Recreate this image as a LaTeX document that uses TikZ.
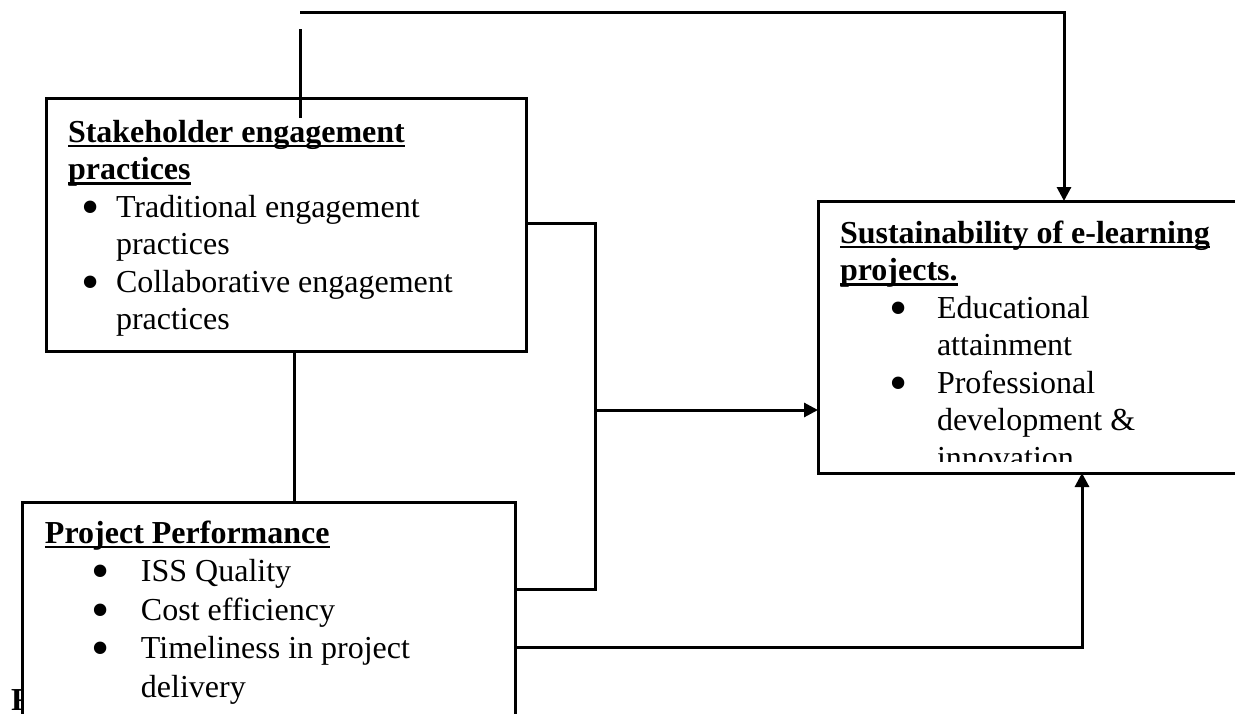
\documentclass[tikz,border=0pt]{standalone}
\usepackage{fontspec}
\setmainfont{Liberation Serif}
\usetikzlibrary{arrows.meta}

\newsavebox\hdbox
\newcommand{\hd}[1]{\sbox\hdbox{\bfseries #1}\rlap{\rule[-5.3pt]{\wd\hdbox}{2.6pt}}\usebox\hdbox}
\newcommand{\bdot}{\smash{\raisebox{-7pt}{\fontsize{52}{52}\selectfont\textbullet}}}
\newcommand{\bitem}[3]{\hspace*{#1}\makebox[#2][l]{\bdot}#3}

\begin{document}
\begin{tikzpicture}[x=1pt,y=-1pt]
        \tikzstyle{every node}=[inner sep=0pt, outer sep=0pt]
        \tikzstyle{box}=[draw, line width=3pt, fill=white, rectangle, anchor=north west]
        \tikzstyle{txt}=[anchor=base west, font=\fontsize{32}{37.5}\selectfont]
        \tikzstyle{link}=[line width=3pt]
        \tikzstyle{arr}=[link, -{Triangle[length=14pt,width=14pt]}]
        \clip (0,0) rectangle (1235,713);
        \fill[white] (0,0) rectangle (1235,713);
        % caption letter hidden behind the lower box
        \node[anchor=base west, font=\fontsize{32}{37.5}\selectfont\bfseries] (cap) at (11,710) {F};
        % the three boxes
        \node[box, minimum width=480pt, minimum height=253pt] (stake) at (46,98) {};
        \node[box, minimum width=493pt, minimum height=290pt] (perf) at (22,502) {};
        \node[box, minimum width=492pt, minimum height=272pt] (sust) at (818,201) {};
        % texts
        \node[txt] (stakeT) at (68,142) {\begin{tabular}[t]{@{}l@{}}
            \hd{Stakeholder engagement}\\
            \hd{practices}\\
            \bitem{13pt}{35pt}{Traditional engagement}\\
            \hspace*{48pt}practices\\
            \bitem{13pt}{35pt}{Collaborative engagement}\\
            \hspace*{48pt}practices
            \end{tabular}};
        \node[txt, font=\fontsize{32}{38.5}\selectfont] (perfT) at (45,543) {\begin{tabular}[t]{@{}l@{}}
            \hd{Project Performance}\\
            \bitem{47pt}{49pt}{ISS Quality}\\
            \bitem{47pt}{49pt}{Cost efficiency}\\
            \bitem{47pt}{49pt}{Timeliness in project}\\
            \hspace*{96pt}delivery
            \end{tabular}};
        \begin{scope}
            \clip (sust.north west) rectangle (1235,461);
            \node[txt] (sustT) at (840,243) {\begin{tabular}[t]{@{}l@{}}
                \hd{Sustainability of e-learning}\\
                \hd{projects.}\\
                \bitem{49pt}{48pt}{Educational}\\
                \hspace*{97pt}attainment\\
                \bitem{49pt}{48pt}{Professional}\\
                \hspace*{97pt}development \&\\
                \hspace*{97pt}innovation
                \end{tabular}};
        \end{scope}
        % connectors
        \coordinate (topA) at (300,118);
        \coordinate (topB) at (300,29);
        \coordinate (topC) at (300,12);
        \coordinate (topD) at (1064,12);
        \draw[link] (topA) -- (topB);
        \draw[arr] (topC) -- (topD) -- (topD |- sust.north);
        \coordinate (midX) at (294,0);
        \draw[link] (stake.south -| midX) -- (perf.north -| midX);
        \coordinate (brkT) at (595,223);
        \coordinate (brkM) at (595,410);
        \coordinate (brkB) at (595,589);
        \draw[link] (stake.east |- brkT) -- (brkT) -- (brkB) -- (perf.east |- brkB);
        \draw[arr] (brkM) -- (sust.west |- brkM);
        \coordinate (lowA) at (1082,647);
        \draw[arr] (perf.east |- lowA) -- (lowA) -- (lowA |- sust.south);
    \end{tikzpicture}
\end{document}
